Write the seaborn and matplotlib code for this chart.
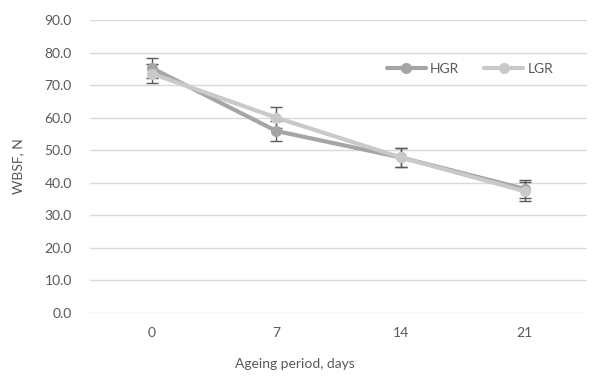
import matplotlib
matplotlib.use("Agg")
import matplotlib.pyplot as plt
import seaborn as sns
import pandas as pd
import numpy as np

days = ["0", "7", "14", "21"]
hgr = [75.2, 55.9, 47.8, 38.1]
hgr_err = [3.1, 3.0, 2.9, 2.9]
lgr = [73.5, 60.0, 47.8, 37.4]
lgr_err = [2.9, 3.2, 2.9, 2.9]
yticks = [0, 10, 20, 30, 40, 50, 60, 70, 80, 90]

sns.set_theme(style="white")
plt.rcParams['font.family'] = ['Lato', 'DejaVu Sans']

fig = plt.figure(figsize=(6.12, 3.76), dpi=100)
ax = fig.add_axes([90/612, 1-313/376, 497/612, 293/376])

pos = np.arange(len(days))
df = pd.DataFrame({
    "pos": np.concatenate([pos, pos]),
    "val": hgr + lgr,
    "series": ["HGR"] * 4 + ["LGR"] * 4,
})
colors = {"HGR": "#a5a5a5", "LGR": "#c9c9c9"}

for s, vals, errs in [("HGR", hgr, hgr_err), ("LGR", lgr, lgr_err)]:
    ax.errorbar(pos, vals, yerr=errs, fmt="none", ecolor="#595959",
                elinewidth=1, capsize=4, capthick=1, zorder=2)

sns.lineplot(data=df, x="pos", y="val", hue="series", palette=colors,
             marker="o", markersize=8, markeredgewidth=0, linewidth=3,
             ax=ax, zorder=3)

ax.set_xlim(-0.5, 3.5)
ax.set_ylim(0, 90)
ax.set_yticks(yticks)
ax.set_yticklabels([f"{v:.1f}" for v in yticks])
ax.set_xticks(pos)
ax.set_xticklabels(days)
ax.grid(axis="y", color="#d9d9d9", linewidth=1)
ax.set_axisbelow(True)
for sp in ax.spines.values():
    sp.set_visible(False)
ax.tick_params(axis="both", length=0, labelsize=10, labelcolor="#595959", pad=13)
ax.tick_params(axis="x", pad=10)
ax.set_xlabel("")
ax.set_ylabel("WBSF, N", fontsize=10, color="#595959", labelpad=10)
ax.yaxis.set_label_coords(-66/497, 0.5)
fig.text(295/612, 1-364/376, "Ageing period, days", ha="center", va="center",
         fontsize=10, color="#595959")

leg = ax.legend(loc="center", bbox_to_anchor=((470-90)/497, (313-69)/293),
                ncol=2, frameon=False, fontsize=10, handlelength=2.8,
                columnspacing=1.8, handletextpad=0.3)
for t in leg.get_texts():
    t.set_color("#595959")

fig.savefig("out.png", dpi=100)
